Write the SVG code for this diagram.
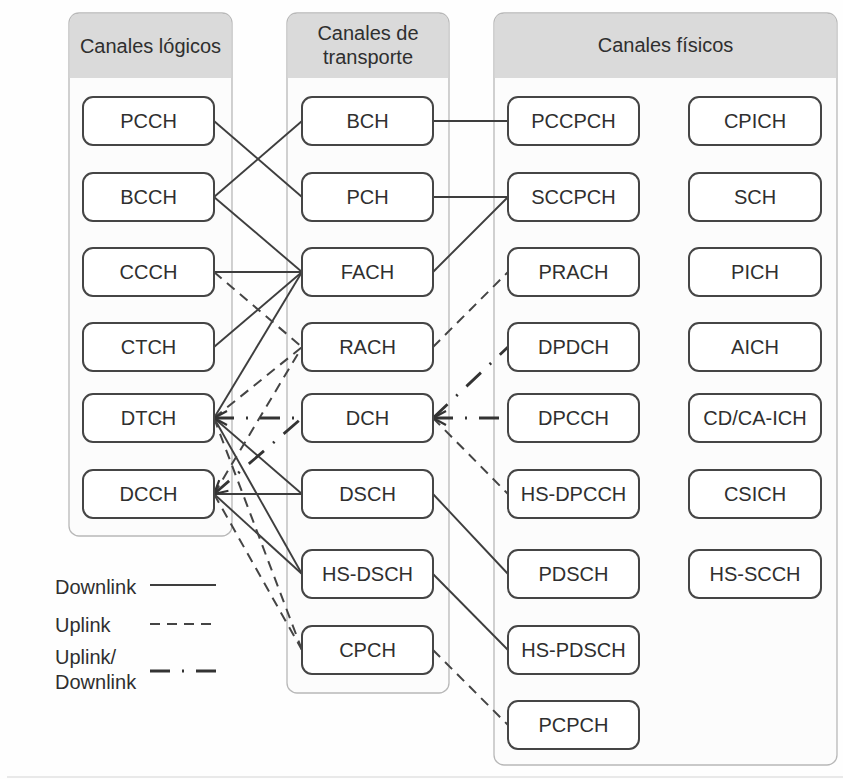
<svg xmlns="http://www.w3.org/2000/svg" width="843" height="779" viewBox="0 0 843 779">
  <style>
    .panel { fill: #fcfcfc; stroke: #b8b8b8; stroke-width: 1.3; }
    .head { fill: #dadada; stroke: none; }
    .node rect { fill: #ffffff; stroke: #454545; stroke-width: 2; }
    text { font-family: "Liberation Sans", Arial, sans-serif; font-size: 20px; fill: #2f2f2f; }
    .c { text-anchor: middle; }
    .solid { stroke: #3e3e3e; stroke-width: 1.9; fill: none; }
    .dash { stroke: #444; stroke-width: 2; fill: none; stroke-dasharray: 10 7; }
    .dd { stroke: #333; stroke-width: 2.8; fill: none; stroke-dasharray: 20 12 2 12; }
  </style>
  <defs>
    <marker id="chev" markerUnits="userSpaceOnUse" markerWidth="20" markerHeight="20" viewBox="-2 -10 20 20" refX="0" refY="0" orient="auto">
      <path d="M13,-7 L0,0 L13,7" fill="none" stroke="#333" stroke-width="2.2"/>
    </marker>
  </defs>

  <rect width="843" height="779" fill="#fefefe"/>
  <line x1="7" y1="777" x2="843" y2="777" stroke="#e2e2e2" stroke-width="1.5"/>

  <!-- column panels -->
  <g id="panel-logicos">
    <rect class="panel" x="69" y="13" width="163" height="523" rx="10"/>
    <path class="head" d="M69.7,78 V23 Q69.7,13.7 79,13.7 H222 Q231.3,13.7 231.3,23 V78 Z"/>
    <text class="c" x="150.5" y="53">Canales lógicos</text>
  </g>
  <g id="panel-transporte">
    <rect class="panel" x="287" y="13" width="162" height="680" rx="10"/>
    <path class="head" d="M287.7,78 V23 Q287.7,13.7 297,13.7 H439 Q448.3,13.7 448.3,23 V78 Z"/>
    <text class="c" x="368" y="40">Canales de</text>
    <text class="c" x="368" y="64">transporte</text>
  </g>
  <g id="panel-fisicos">
    <rect class="panel" x="494" y="13" width="343" height="752" rx="10"/>
    <path class="head" d="M494.7,78 V23 Q494.7,13.7 504,13.7 H827 Q836.3,13.7 836.3,23 V78 Z"/>
    <text class="c" x="665.5" y="52">Canales físicos</text>
  </g>

  <!-- connectors -->
  <g id="connectors">
    <!-- downlink -->
    <line class="solid" x1="214" y1="121" x2="302" y2="197"/>
    <line class="solid" x1="214" y1="197" x2="302" y2="121"/>
    <line class="solid" x1="214" y1="197" x2="302" y2="272"/>
    <line class="solid" x1="214" y1="272" x2="302" y2="272"/>
    <line class="solid" x1="214" y1="347" x2="302" y2="272"/>
    <line class="solid" x1="214" y1="418" x2="302" y2="272"/>
    <line class="solid" x1="214" y1="418" x2="302" y2="494"/>
    <line class="solid" x1="214" y1="418" x2="302" y2="574"/>
    <line class="solid" x1="214" y1="494" x2="302" y2="494"/>
    <line class="solid" x1="214" y1="494" x2="302" y2="574"/>
    <line class="solid" x1="433" y1="121" x2="508" y2="121"/>
    <line class="solid" x1="433" y1="197" x2="508" y2="197"/>
    <line class="solid" x1="433" y1="272" x2="508" y2="197"/>
    <line class="solid" x1="433" y1="494" x2="508" y2="574"/>
    <line class="solid" x1="433" y1="574" x2="508" y2="650"/>
    <!-- uplink -->
    <line class="dash" x1="214" y1="272" x2="302" y2="347"/>
    <line class="dash" x1="214" y1="418" x2="302" y2="347"/>
    <line class="dash" x1="214" y1="494" x2="302" y2="347"/>
    <line class="dash" x1="214" y1="418" x2="302" y2="650"/>
    <line class="dash" x1="214" y1="494" x2="302" y2="650"/>
    <line class="dash" x1="433" y1="347" x2="508" y2="272"/>
    <line class="dash" x1="433" y1="418" x2="508" y2="494"/>
    <line class="dash" x1="433" y1="650" x2="508" y2="725"/>
    <!-- uplink / downlink -->
    <line class="dd" x1="214" y1="418" x2="302" y2="418" marker-start="url(#chev)"/>
    <line class="dd" x1="214" y1="494" x2="302" y2="418" marker-start="url(#chev)"/>
    <line class="dd" x1="433" y1="418" x2="508" y2="418" marker-start="url(#chev)"/>
    <line class="dd" x1="433" y1="418" x2="508" y2="347"/>
  </g>

  <!-- logical channels -->
  <g id="PCCH" class="node"><rect x="83" y="97" width="131" height="48" rx="10"/><text class="c" x="148.5" y="128">PCCH</text></g>
  <g id="BCCH" class="node"><rect x="83" y="173" width="131" height="48" rx="10"/><text class="c" x="148.5" y="204">BCCH</text></g>
  <g id="CCCH" class="node"><rect x="83" y="248" width="131" height="48" rx="10"/><text class="c" x="148.5" y="279">CCCH</text></g>
  <g id="CTCH" class="node"><rect x="83" y="323" width="131" height="48" rx="10"/><text class="c" x="148.5" y="354">CTCH</text></g>
  <g id="DTCH" class="node"><rect x="83" y="394" width="131" height="48" rx="10"/><text class="c" x="148.5" y="425">DTCH</text></g>
  <g id="DCCH" class="node"><rect x="83" y="470" width="131" height="48" rx="10"/><text class="c" x="148.5" y="501">DCCH</text></g>

  <!-- transport channels -->
  <g id="BCH" class="node"><rect x="302" y="97" width="131" height="48" rx="10"/><text class="c" x="367.5" y="128">BCH</text></g>
  <g id="PCH" class="node"><rect x="302" y="173" width="131" height="48" rx="10"/><text class="c" x="367.5" y="204">PCH</text></g>
  <g id="FACH" class="node"><rect x="302" y="248" width="131" height="48" rx="10"/><text class="c" x="367.5" y="279">FACH</text></g>
  <g id="RACH" class="node"><rect x="302" y="323" width="131" height="48" rx="10"/><text class="c" x="367.5" y="354">RACH</text></g>
  <g id="DCH" class="node"><rect x="302" y="394" width="131" height="48" rx="10"/><text class="c" x="367.5" y="425">DCH</text></g>
  <g id="DSCH" class="node"><rect x="302" y="470" width="131" height="48" rx="10"/><text class="c" x="367.5" y="501">DSCH</text></g>
  <g id="HS-DSCH" class="node"><rect x="302" y="550" width="131" height="48" rx="10"/><text class="c" x="367.5" y="581">HS-DSCH</text></g>
  <g id="CPCH" class="node"><rect x="302" y="626" width="131" height="48" rx="10"/><text class="c" x="367.5" y="657">CPCH</text></g>

  <!-- physical channels -->
  <g id="PCCPCH" class="node"><rect x="508" y="97" width="131" height="48" rx="10"/><text class="c" x="573.5" y="128">PCCPCH</text></g>
  <g id="SCCPCH" class="node"><rect x="508" y="173" width="131" height="48" rx="10"/><text class="c" x="573.5" y="204">SCCPCH</text></g>
  <g id="PRACH" class="node"><rect x="508" y="248" width="131" height="48" rx="10"/><text class="c" x="573.5" y="279">PRACH</text></g>
  <g id="DPDCH" class="node"><rect x="508" y="323" width="131" height="48" rx="10"/><text class="c" x="573.5" y="354">DPDCH</text></g>
  <g id="DPCCH" class="node"><rect x="508" y="394" width="131" height="48" rx="10"/><text class="c" x="573.5" y="425">DPCCH</text></g>
  <g id="HS-DPCCH" class="node"><rect x="508" y="470" width="131" height="48" rx="10"/><text class="c" x="573.5" y="501">HS-DPCCH</text></g>
  <g id="PDSCH" class="node"><rect x="508" y="550" width="131" height="48" rx="10"/><text class="c" x="573.5" y="581">PDSCH</text></g>
  <g id="HS-PDSCH" class="node"><rect x="508" y="626" width="131" height="48" rx="10"/><text class="c" x="573.5" y="657">HS-PDSCH</text></g>
  <g id="PCPCH" class="node"><rect x="508" y="701" width="131" height="48" rx="10"/><text class="c" x="573.5" y="732">PCPCH</text></g>

  <g id="CPICH" class="node"><rect x="689" y="97" width="132" height="48" rx="10"/><text class="c" x="755" y="128">CPICH</text></g>
  <g id="SCH" class="node"><rect x="689" y="173" width="132" height="48" rx="10"/><text class="c" x="755" y="204">SCH</text></g>
  <g id="PICH" class="node"><rect x="689" y="248" width="132" height="48" rx="10"/><text class="c" x="755" y="279">PICH</text></g>
  <g id="AICH" class="node"><rect x="689" y="323" width="132" height="48" rx="10"/><text class="c" x="755" y="354">AICH</text></g>
  <g id="CD-CA-ICH" class="node"><rect x="689" y="394" width="132" height="48" rx="10"/><text class="c" x="755" y="425">CD/CA-ICH</text></g>
  <g id="CSICH" class="node"><rect x="689" y="470" width="132" height="48" rx="10"/><text class="c" x="755" y="501">CSICH</text></g>
  <g id="HS-SCCH" class="node"><rect x="689" y="550" width="132" height="48" rx="10"/><text class="c" x="755" y="581">HS-SCCH</text></g>

  <!-- legend -->
  <g id="legend">
    <text x="55" y="594">Downlink</text>
    <line class="solid" x1="150" y1="585" x2="216" y2="585"/>
    <text x="55" y="632">Uplink</text>
    <line class="dash" x1="150" y1="624" x2="216" y2="624"/>
    <text x="55" y="664">Uplink/</text>
    <text x="55" y="689">Downlink</text>
    <line class="dd" x1="150" y1="671" x2="216" y2="671"/>
  </g>
</svg>
